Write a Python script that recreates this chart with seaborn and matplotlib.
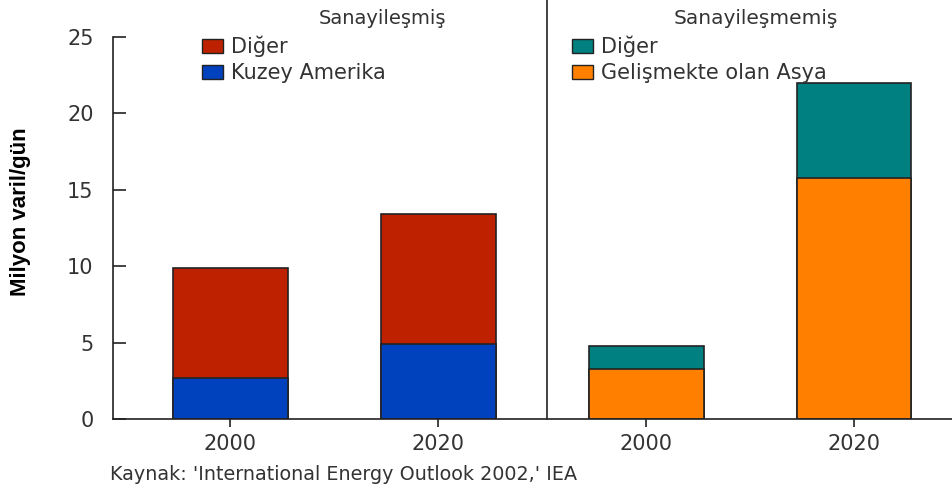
import matplotlib
matplotlib.use("Agg")
import matplotlib.pyplot as plt
from matplotlib.patches import Patch
import pandas as pd
import seaborn as sns

# Data (million barrels per day)
slots = ["S2000", "S2020", "N2000", "N2020"]
tick_labels = ["2000", "2020", "2000", "2020"]
totals = [9.9, 13.4, 4.8, 22.0]
bottoms = [2.7, 4.9, 3.3, 15.8]
top_colors = ["#BE2100", "#BE2100", "#008080", "#008080"]
bottom_colors = ["#0041BE", "#0041BE", "#FF8000", "#FF8000"]
group_titles = ["Sanayileşmiş", "Sanayileşmemiş"]
legend_left = ["Diğer", "Kuzey Amerika"]
legend_right = ["Diğer", "Gelişmekte olan Asya"]
y_title = "Milyon varil/gün"
source = "Kaynak: 'International Energy Outlook 2002,' IEA"

sns.set_theme(style="white")
plt.rcParams["font.family"] = ["DejaVu Sans"]

TXT = "#333333"
LINE = "#222222"

df = pd.DataFrame({"slot": slots, "total": totals, "bottom": bottoms})

fig = plt.figure(figsize=(9.52, 4.88), dpi=100)
ax = fig.add_axes([113 / 952, 69 / 488, 839 / 952, 382 / 488])

sns.barplot(data=df, x="slot", y="total", hue="slot", order=slots,
            palette=dict(zip(slots, top_colors)), width=0.55, dodge=False,
            saturation=1, edgecolor=LINE, linewidth=1.2, legend=False, ax=ax)
sns.barplot(data=df, x="slot", y="bottom", hue="slot", order=slots,
            palette=dict(zip(slots, bottom_colors)), width=0.55, dodge=False,
            saturation=1, edgecolor=LINE, linewidth=1.2, legend=False, ax=ax)

ax.set_xlim(-0.565, 3.47)
ax.set_ylim(0, 25)
ax.set_yticks([0, 5, 10, 15, 20, 25])
ax.set_xticks(range(len(slots)))
ax.set_xticklabels(tick_labels)
ax.set_xlabel("")
ax.set_ylabel("")

for side in ["top", "right"]:
    ax.spines[side].set_visible(False)
for side in ["left", "bottom"]:
    ax.spines[side].set_color(LINE)
    ax.spines[side].set_linewidth(1.2)

ax.tick_params(axis="y", direction="in", length=9, width=1.2, color=LINE,
               labelsize=15, pad=14, labelcolor=TXT)
ax.tick_params(axis="x", direction="out", length=6, width=1.2, color=LINE,
               labelsize=15, pad=5, labelcolor=TXT)
ax.tick_params(left=True, bottom=True)

# Y axis title (placed slightly above the axis centre, as in the original)
fig.text(21 / 952, 1 - 212 / 488, y_title, rotation=90, ha="center", va="center",
         fontsize=16, fontweight="bold", color="black",
         family=["Liberation Sans", "DejaVu Sans"])

# Divider between the two groups
ax.axvline(1.52, ymin=0, ymax=1.1, color=LINE, linewidth=1.2, clip_on=False)

# Group titles
fig.text(383 / 952, 1 - 18 / 488, group_titles[0], ha="center", va="center",
         fontsize=14, color=TXT)
fig.text(756 / 952, 1 - 18 / 488, group_titles[1], ha="center", va="center",
         fontsize=14.5, color=TXT)

# Legends
h_left = [Patch(facecolor=top_colors[0], edgecolor=LINE),
          Patch(facecolor=bottom_colors[0], edgecolor=LINE)]
h_right = [Patch(facecolor=top_colors[2], edgecolor=LINE),
           Patch(facecolor=bottom_colors[2], edgecolor=LINE)]
for handles, labels, x0 in [(h_left, legend_left, 192), (h_right, legend_right, 562)]:
    leg = fig.legend(handles, labels, loc="upper left",
                     bbox_to_anchor=(x0 / 952, 1 - 25 / 488), frameon=False,
                     fontsize=15, handlelength=1.0, handleheight=0.65,
                     handletextpad=0.35, labelspacing=0.3, borderpad=0)
    for t in leg.get_texts():
        t.set_color(TXT)

fig.text(110 / 952, 1 - 474 / 488, source, ha="left", va="center",
         fontsize=13.8, color=TXT)

fig.savefig("out.png", dpi=100)
